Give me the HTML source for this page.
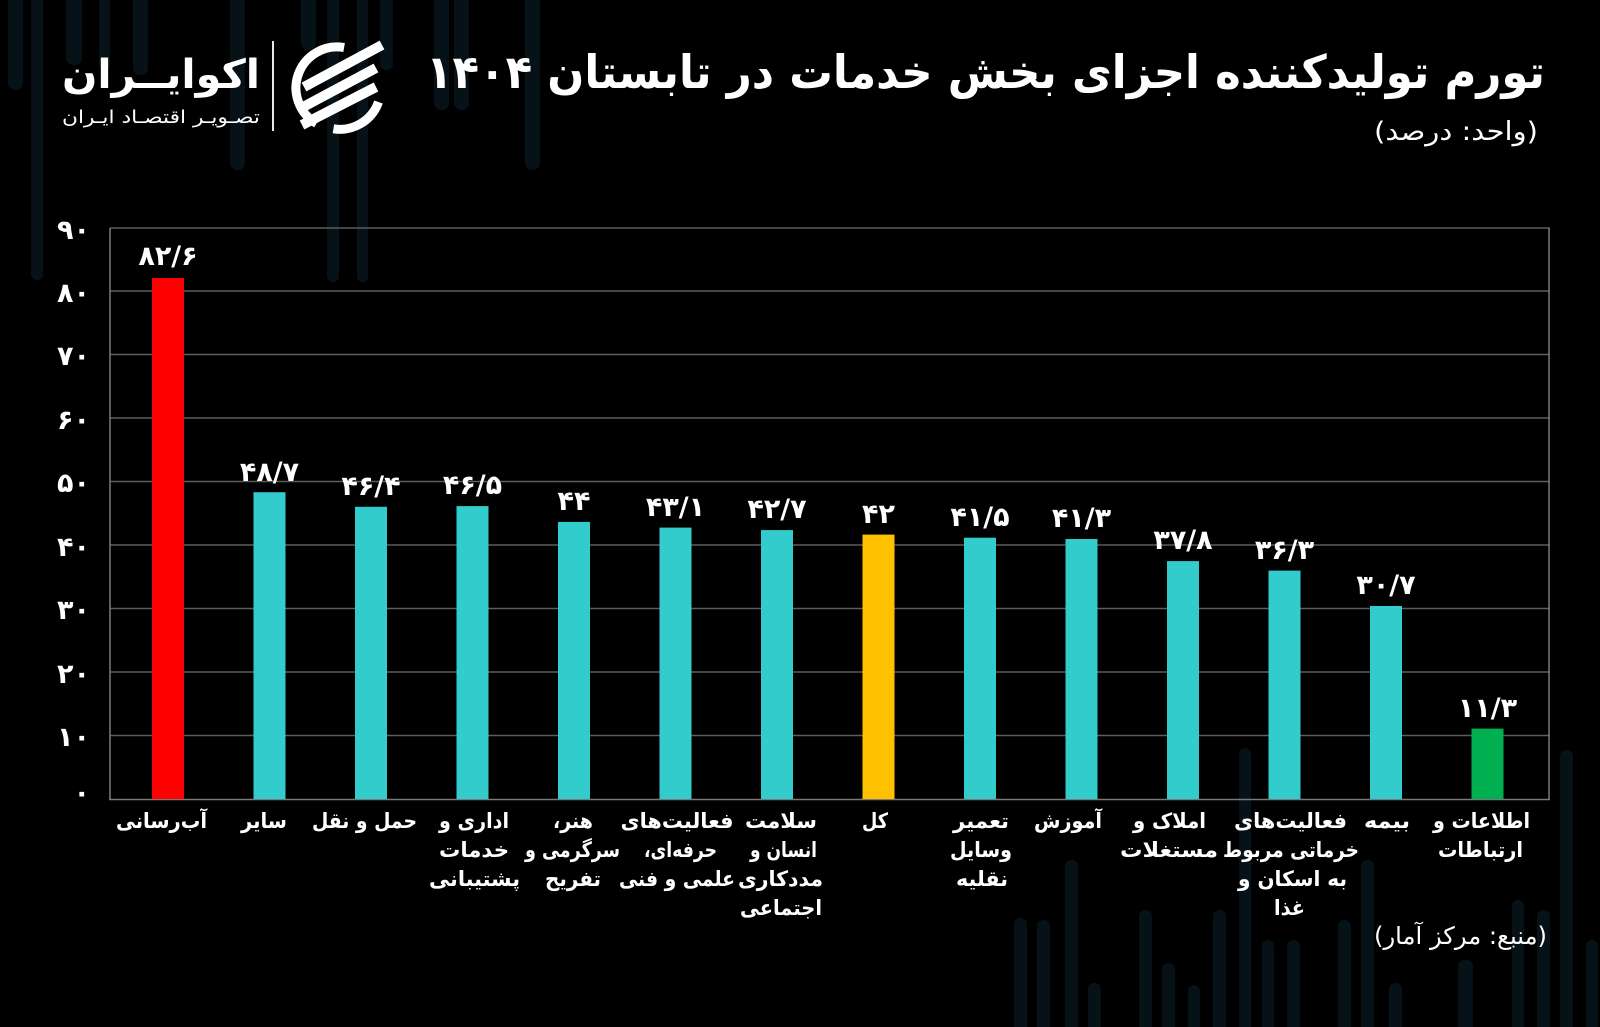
<!DOCTYPE html>
<html lang="fa">
<head>
<meta charset="utf-8">
<style>
  html,body{margin:0;padding:0;background:#000;}
  svg{display:block;}
  text{font-family:"DejaVu Sans","Liberation Sans",sans-serif;fill:#fff;}
  .b{font-weight:700;}
</style>
</head>
<body>
<svg width="1600" height="1027" viewBox="0 0 1600 1027" xmlns="http://www.w3.org/2000/svg">
  <rect x="0" y="0" width="1600" height="1027" fill="#000"/>

  <!-- faint background bars (top-left) -->
  <g fill="#061218">
    <rect x="8" y="-10" width="15" height="100" rx="7"/>
    <rect x="31" y="-10" width="12" height="290" rx="6"/>
    <rect x="66" y="-10" width="16" height="75" rx="7"/>
    <rect x="99" y="-10" width="11" height="80" rx="5"/>
    <rect x="133" y="-10" width="15" height="85" rx="7"/>
    <rect x="230" y="-10" width="15" height="180" rx="7"/>
    <rect x="301" y="-10" width="15" height="60" rx="7"/>
    <rect x="327" y="-10" width="12" height="292" rx="6"/>
    <rect x="357" y="-10" width="11" height="292" rx="5"/>
    <rect x="380" y="-10" width="13" height="80" rx="6"/>
    <rect x="434" y="-10" width="15" height="120" rx="7"/>
    <rect x="454" y="-10" width="15" height="120" rx="7"/>
    <rect x="525" y="-10" width="15" height="180" rx="7"/>
  </g>
  <!-- faint background bars (bottom-right) -->
  <g fill="#061218">
    <rect x="1014" y="918" width="13" height="120" rx="6"/>
    <rect x="1037" y="920" width="13" height="120" rx="6"/>
    <rect x="1065" y="860" width="13" height="180" rx="6"/>
    <rect x="1088" y="983" width="13" height="60" rx="6"/>
    <rect x="1139" y="910" width="13" height="130" rx="6"/>
    <rect x="1162" y="963" width="13" height="80" rx="6"/>
    <rect x="1188" y="985" width="12" height="60" rx="6"/>
    <rect x="1213" y="910" width="13" height="130" rx="6"/>
    <rect x="1239" y="748" width="12" height="290" rx="6"/>
    <rect x="1262" y="940" width="12" height="100" rx="6"/>
    <rect x="1287" y="940" width="13" height="100" rx="6"/>
    <rect x="1338" y="920" width="13" height="120" rx="6"/>
    <rect x="1361" y="860" width="13" height="180" rx="6"/>
    <rect x="1389" y="983" width="13" height="60" rx="6"/>
    <rect x="1458" y="960" width="15" height="80" rx="7"/>
    <rect x="1512" y="900" width="12" height="140" rx="6"/>
    <rect x="1537" y="910" width="13" height="130" rx="6"/>
    <rect x="1560" y="750" width="13" height="290" rx="6"/>
    <rect x="1586" y="940" width="12" height="100" rx="6"/>
  </g>

  <!-- Logo -->
  <text class="b" x="161" y="88" font-size="40" text-anchor="middle" direction="rtl" textLength="198" lengthAdjust="spacingAndGlyphs">اکوایــران</text>
  <text x="161" y="123" font-size="18" text-anchor="middle" direction="rtl" textLength="198" lengthAdjust="spacingAndGlyphs">تصـویـر اقتصـاد ایـران</text>
  <rect x="272" y="41" width="2" height="90" fill="#e8e8e8"/>
  <g fill="none" stroke="#fff" stroke-width="9" stroke-linecap="butt">
    <path d="M344.1,47.6 A41,41 0 0 0 316.5,123.5"/>
    <path d="M378.5,102 A41,41 0 0 1 333.4,128.8"/>
  </g>
  <g stroke="#fff" stroke-width="10" stroke-linecap="butt">
    <line x1="304" y1="87" x2="382" y2="45"/>
    <line x1="305" y1="106" x2="376" y2="68"/>
    <line x1="302" y1="125" x2="376" y2="87"/>
  </g>

  <!-- Title -->
  <text class="b" x="985.5" y="88" font-size="46" text-anchor="middle" direction="rtl" textLength="1119" lengthAdjust="spacingAndGlyphs">تورم تولیدکننده اجزای بخش خدمات در تابستان ۱۴۰۴</text>
  <text x="1456" y="140" font-size="26" text-anchor="middle" direction="rtl" textLength="164" lengthAdjust="spacingAndGlyphs">(واحد: درصد)</text>

  <!-- Grid -->
  <g stroke="#5c5c5c" stroke-width="1.5">
    <line x1="110" y1="228" x2="1550" y2="228"/>
    <line x1="110" y1="291" x2="1550" y2="291"/>
    <line x1="110" y1="354.5" x2="1550" y2="354.5"/>
    <line x1="110" y1="418" x2="1550" y2="418"/>
    <line x1="110" y1="481.5" x2="1550" y2="481.5"/>
    <line x1="110" y1="545" x2="1550" y2="545"/>
    <line x1="110" y1="608.5" x2="1550" y2="608.5"/>
    <line x1="110" y1="672" x2="1550" y2="672"/>
    <line x1="110" y1="735.5" x2="1550" y2="735.5"/>
  </g>
  <g stroke="#7a7a7a" stroke-width="1.5">
    <line x1="110" y1="228" x2="110" y2="800"/>
    <line x1="1549" y1="228" x2="1549" y2="800"/>
    <line x1="109" y1="799.5" x2="1550" y2="799.5"/>
  </g>

  <!-- Y axis labels -->
  <g font-size="27" text-anchor="end">
    <text x="90" y="239" class="b">۹۰</text>
    <text x="90" y="302" class="b">۸۰</text>
    <text x="90" y="365" class="b">۷۰</text>
    <text x="90" y="429" class="b">۶۰</text>
    <text x="90" y="492" class="b">۵۰</text>
    <text x="90" y="556" class="b">۴۰</text>
    <text x="90" y="619" class="b">۳۰</text>
    <text x="90" y="683" class="b">۲۰</text>
    <text x="90" y="746" class="b">۱۰</text>
    <text x="90" y="802" class="b">۰</text>
  </g>

  <!-- Bars -->
  <rect x="152" y="278" width="32" height="521" fill="#ff0000"/>
  <rect x="253.5" y="492.2" width="32" height="306.8" fill="#33cccc"/>
  <rect x="355" y="506.8" width="32" height="292.2" fill="#33cccc"/>
  <rect x="456.5" y="506.1" width="32" height="292.9" fill="#33cccc"/>
  <rect x="558" y="521.9" width="32" height="277.1" fill="#33cccc"/>
  <rect x="659.5" y="527.6" width="32" height="271.4" fill="#33cccc"/>
  <rect x="761" y="530.1" width="32" height="268.9" fill="#33cccc"/>
  <rect x="862.5" y="534.6" width="32" height="264.4" fill="#ffc000"/>
  <rect x="964" y="537.7" width="32" height="261.3" fill="#33cccc"/>
  <rect x="1065.5" y="539" width="32" height="260" fill="#33cccc"/>
  <rect x="1167" y="561.1" width="32" height="237.9" fill="#33cccc"/>
  <rect x="1268.5" y="570.6" width="32" height="228.4" fill="#33cccc"/>
  <rect x="1370" y="606" width="32" height="193" fill="#33cccc"/>
  <rect x="1471.5" y="728.6" width="32" height="70.4" fill="#00b050"/>

  <!-- Value labels -->
  <g font-size="27" text-anchor="middle">
    <text class="b" x="168" y="265">۸۲/۶</text>
    <text class="b" x="269.5" y="481">۴۸/۷</text>
    <text class="b" x="371" y="495">۴۶/۴</text>
    <text class="b" x="472.5" y="494">۴۶/۵</text>
    <text class="b" x="574" y="510">۴۴</text>
    <text class="b" x="675.5" y="516">۴۳/۱</text>
    <text class="b" x="777" y="518">۴۲/۷</text>
    <text class="b" x="878.5" y="523">۴۲</text>
    <text class="b" x="980" y="526">۴۱/۵</text>
    <text class="b" x="1081.5" y="527">۴۱/۳</text>
    <text class="b" x="1183" y="549">۳۷/۸</text>
    <text class="b" x="1284.5" y="559">۳۶/۳</text>
    <text class="b" x="1386" y="594">۳۰/۷</text>
    <text class="b" x="1487.5" y="717">۱۱/۳</text>
  </g>

  <!-- Category labels -->
  <g font-size="21" text-anchor="middle" direction="rtl">
    <text class="b" x="161.5" y="828" textLength="91" lengthAdjust="spacingAndGlyphs">آب&#8204;رسانی</text>
    <text class="b" x="264" y="828" textLength="46" lengthAdjust="spacingAndGlyphs">سایر</text>
    <text class="b" x="364.5" y="828" textLength="105" lengthAdjust="spacingAndGlyphs">حمل و نقل</text>

    <text class="b" x="474" y="828" textLength="70" lengthAdjust="spacingAndGlyphs">اداری و</text>
    <text class="b" x="474" y="857" textLength="70" lengthAdjust="spacingAndGlyphs">خدمات</text>
    <text class="b" x="474.5" y="886" textLength="91" lengthAdjust="spacingAndGlyphs">پشتیبانی</text>

    <text class="b" x="573" y="828" textLength="40" lengthAdjust="spacingAndGlyphs">هنر،</text>
    <text class="b" x="572.5" y="857" textLength="95" lengthAdjust="spacingAndGlyphs">سرگرمی و</text>
    <text class="b" x="573" y="886" textLength="56" lengthAdjust="spacingAndGlyphs">تفریح</text>

    <text class="b" x="677" y="828" textLength="113" lengthAdjust="spacingAndGlyphs">فعالیت&#8204;های</text>
    <text class="b" x="680.5" y="857" textLength="73" lengthAdjust="spacingAndGlyphs">حرفه&#8204;ای،</text>
    <text class="b" x="677" y="886" textLength="116" lengthAdjust="spacingAndGlyphs">علمی و فنی</text>

    <text class="b" x="781" y="828" textLength="72" lengthAdjust="spacingAndGlyphs">سلامت</text>
    <text class="b" x="783.5" y="857" textLength="67" lengthAdjust="spacingAndGlyphs">انسان و</text>
    <text class="b" x="780.5" y="886" textLength="85" lengthAdjust="spacingAndGlyphs">مددکاری</text>
    <text class="b" x="781" y="915" textLength="82" lengthAdjust="spacingAndGlyphs">اجتماعی</text>

    <text class="b" x="875" y="828" textLength="26" lengthAdjust="spacingAndGlyphs">کل</text>

    <text class="b" x="981" y="828" textLength="56" lengthAdjust="spacingAndGlyphs">تعمیر</text>
    <text class="b" x="981" y="857" textLength="62" lengthAdjust="spacingAndGlyphs">وسایل</text>
    <text class="b" x="982" y="886" textLength="52" lengthAdjust="spacingAndGlyphs">نقلیه</text>

    <text class="b" x="1068" y="828" textLength="68" lengthAdjust="spacingAndGlyphs">آموزش</text>

    <text class="b" x="1169.5" y="828" textLength="73" lengthAdjust="spacingAndGlyphs">املاک و</text>
    <text class="b" x="1169" y="857" textLength="98" lengthAdjust="spacingAndGlyphs">مستغلات</text>

    <text class="b" x="1290.5" y="828" textLength="113" lengthAdjust="spacingAndGlyphs">فعالیت&#8204;های</text>
    <text class="b" x="1291" y="857" textLength="136" lengthAdjust="spacingAndGlyphs">خرماتی مربوط</text>
    <text class="b" x="1292.5" y="886" textLength="109" lengthAdjust="spacingAndGlyphs">به اسکان و</text>
    <text class="b" x="1289.5" y="915" textLength="31" lengthAdjust="spacingAndGlyphs">غذا</text>

    <text class="b" x="1387" y="828" textLength="46" lengthAdjust="spacingAndGlyphs">بیمه</text>

    <text class="b" x="1481.5" y="828" textLength="97" lengthAdjust="spacingAndGlyphs">اطلاعات و</text>
    <text class="b" x="1480.5" y="857" textLength="85" lengthAdjust="spacingAndGlyphs">ارتباطات</text>
  </g>

  <!-- Source -->
  <text x="1460.5" y="944" font-size="24" text-anchor="middle" direction="rtl" textLength="173" lengthAdjust="spacingAndGlyphs">(منبع: مرکز آمار)</text>
</svg>
</body>
</html>
